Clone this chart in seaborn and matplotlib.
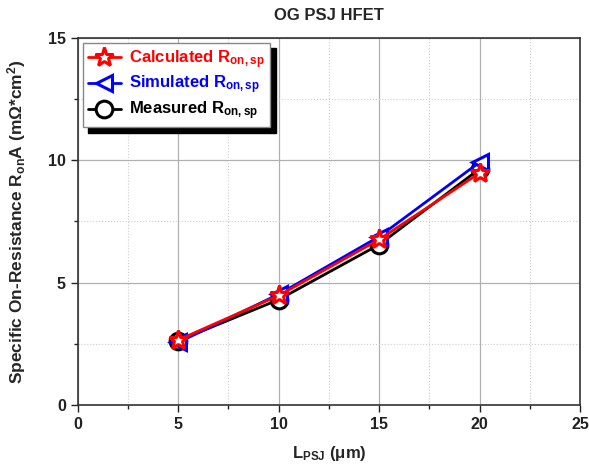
import pandas as pd
import matplotlib
matplotlib.use("Agg")
from matplotlib import pyplot as plt
from matplotlib.ticker import MultipleLocator
import seaborn as sns

sns.set_style("white")
plt.rcParams["font.family"] = ["Liberation Sans", "DejaVu Sans"]
plt.rcParams["mathtext.fontset"] = "custom"
plt.rcParams["mathtext.rm"] = "Liberation Sans:bold"
plt.rcParams["mathtext.bf"] = "Liberation Sans:bold"
plt.rcParams["mathtext.default"] = "bf"

# data
l_psj = [5, 10, 15, 20]
measured = [2.62, 4.3, 6.55, 9.65]
simulated = [2.55, 4.52, 6.88, 9.92]
calculated = [2.65, 4.47, 6.76, 9.48]

fig = plt.figure(figsize=(5.89, 4.68), dpi=100)
ax = fig.add_axes([0.132, 0.135, 0.853, 0.784])

series = [
    ("Measured", measured, "black", "o", r"Measured R$_{\mathbf{on,sp}}$"),
    ("Simulated", simulated, "#0000ff", "<", r"Simulated R$_{\mathbf{on,sp}}$"),
    ("Calculated", calculated, "#ff0000", "*", r"Calculated R$_{\mathbf{on,sp}}$"),
]
for name, vals, color, marker, label in series:
    df = pd.DataFrame({"x": l_psj, "y": vals})
    ms = 14 if marker == "*" else 12
    sns.lineplot(x="x", y="y", data=df, ax=ax, color=color, lw=2.0,
                 marker=marker, markersize=ms, markerfacecolor="white",
                 markeredgecolor=color, markeredgewidth=2.2, label=label)

ax.set_xlim(0, 25)
ax.set_ylim(0, 15)
ax.xaxis.set_major_locator(MultipleLocator(5))
ax.xaxis.set_minor_locator(MultipleLocator(2.5))
ax.yaxis.set_major_locator(MultipleLocator(5))
ax.yaxis.set_minor_locator(MultipleLocator(2.5))
ax.grid(which="major", color="#b0b0b0", lw=0.9)
ax.grid(which="minor", color="#cccccc", lw=0.8, ls=":")
ax.tick_params(which="major", direction="out", length=5, width=1, labelsize=11.5,
               bottom=True, left=True, colors="#222222")
ax.tick_params(which="minor", direction="out", length=3, width=1, bottom=True, left=True,
               colors="#222222")
for lab in ax.get_xticklabels() + ax.get_yticklabels():
    lab.set_fontweight("bold")
for sp in ax.spines.values():
    sp.set_color("#333333")
    sp.set_linewidth(1.2)

ax.set_xlabel(r"L$_{\mathbf{PSJ}}$ ($\mathbf{\mu}$m)", fontsize=12, fontweight="bold",
              labelpad=9)
ax.set_ylabel(r"Specific On-Resistance R$_{\mathbf{on}}$A (m$\mathbf{\Omega}$*cm$^{\mathbf{2}}$)",
              fontsize=12.5, fontweight="bold", labelpad=14)
ax.set_title("OG PSJ HFET", fontsize=12, fontweight="bold", pad=13)

handles, labels = ax.get_legend_handles_labels()
order = [2, 1, 0]
leg = ax.legend([handles[i] for i in order], [labels[i] for i in order],
                loc="upper left", fancybox=False,
                shadow={"color": "black", "alpha": 1, "ox": 4, "oy": -4},
                framealpha=1, edgecolor="#888888",
                prop={"weight": "bold", "size": 12},
                handlelength=2.0, handletextpad=0.5, borderaxespad=0.3,
                labelspacing=0.2, borderpad=0.3)
for text, (_, _, color, _, _) in zip(leg.get_texts(), [series[i] for i in order]):
    text.set_color(color)

fig.savefig("out.png", dpi=100)
